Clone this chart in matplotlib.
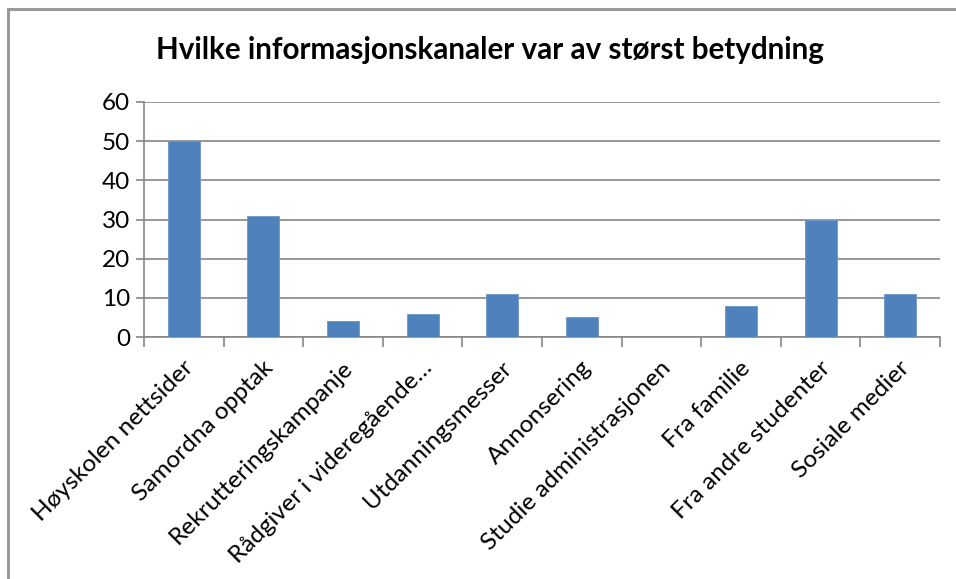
import matplotlib.pyplot as plt
from matplotlib.lines import Line2D
from matplotlib.ticker import MultipleLocator

# data
kanaler = ['Høyskolen nettsider', 'Samordna opptak', 'Rekrutteringskampanje',
           'Rådgiver i videregående…', 'Utdanningsmesser', 'Annonsering',
           'Studie administrasjonen', 'Fra familie', 'Fra andre studenter',
           'Sosiale medier']
antall = [50, 31, 4, 6, 11, 5, 0, 8, 30, 11]

titlestr = 'Hvilke informasjonskanaler var av størst betydning'
bar_color = '#4F81BD'
grid_color = '#868686'

plt.rcParams['font.family'] = ['Lato', 'DejaVu Sans']

fig = plt.figure(figsize=(9.56, 5.79), dpi=100)
ax = fig.add_axes([144/956, 1 - 337/579, (940 - 144)/956, (337 - 102)/579])

x = range(len(kanaler))
ax.bar(x, antall, width=0.4, color=bar_color, edgecolor='#6F96C8', linewidth=0.6, zorder=3)

# axes
ax.set_xlim(-0.5, len(kanaler) - 0.5)
ax.set_ylim(0, 60)
ax.yaxis.set_major_locator(MultipleLocator(10))
ax.yaxis.grid(True, color=grid_color, linewidth=1.2, zorder=0)
ax.tick_params(axis='y', which='major', labelsize=17.5, length=6, color=grid_color,
               width=1.2, pad=4)

# category boundary ticks below axis
ax.set_xticks([i - 0.5 for i in range(len(kanaler) + 1)])
ax.set_xticklabels([])
ax.tick_params(axis='x', length=7, color=grid_color, width=1.2)
for i, lab in enumerate(kanaler):
    ax.text(i + 0.08, -7.0, lab, rotation=45, rotation_mode='anchor',
            ha='right', va='center', fontsize=17.6, transform=ax.transData)

for s in ['top', 'right']:
    ax.spines[s].set_visible(False)
for s in ['left', 'bottom']:
    ax.spines[s].set_color(grid_color)
    ax.spines[s].set_linewidth(1.2)

# title
fig.text(490/956, 1 - 50/579, titlestr, ha='center', va='center',
         fontsize=21.3, fontweight='bold')

# chart frame (left and top edge)
fig.add_artist(Line2D([8/956, 8/956], [0, 1 - 9/579], color='#999999', linewidth=2.2,
                      transform=fig.transFigure))
fig.add_artist(Line2D([8/956, 1], [1 - 9/579, 1 - 9/579], color='#999999', linewidth=2.2,
                      transform=fig.transFigure))

plt.savefig('out.png', dpi=100)
